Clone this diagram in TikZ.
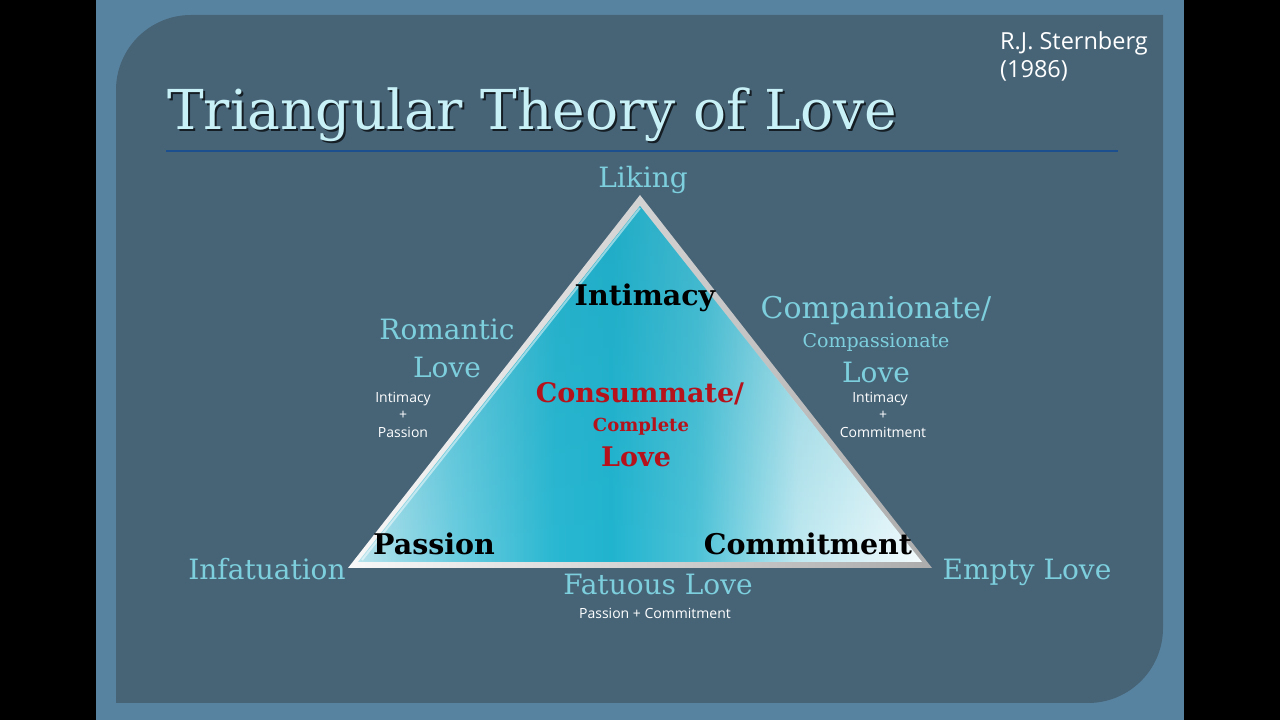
\documentclass[tikz,border=0pt]{standalone}
\usepackage{fontspec}
\setmainfont{DejaVu Serif}
\newfontfamily\notefont{Open Sans}
\usetikzlibrary{fadings}

\definecolor{slideblue}{HTML}{5883A0}
\definecolor{panelblue}{HTML}{476477}
\definecolor{titlecyan}{HTML}{C8F1F7}
\definecolor{lovecyan}{HTML}{7DCFDD}
\definecolor{rulecol}{HTML}{1C4F8E}
\definecolor{lovered}{HTML}{B5121B}
\definecolor{triTop}{HTML}{1F9DB6}
\definecolor{tri0}{HTML}{B8E3EC}
\definecolor{tri1}{HTML}{6CCDE0}
\definecolor{tri2}{HTML}{2AB8D2}
\definecolor{tri3}{HTML}{22B5D0}
\definecolor{tri4}{HTML}{4EC3D8}
\definecolor{tri5}{HTML}{C0E9F1}
\definecolor{tri6}{HTML}{F4FCFE}

\pgfdeclarehorizontalshading{trifill}{100bp}{%
  color(0bp)=(tri0); color(25bp)=(tri0); color(33.5bp)=(tri1);
  color(42.5bp)=(tri2); color(47.5bp)=(tri3); color(55bp)=(tri4);
  color(64bp)=(tri5); color(75bp)=(tri6); color(100bp)=(tri6)}

\begin{document}
\begin{tikzpicture}[x=1pt, y=1pt,
  lbl/.style={text=lovecyan, font=\fontsize{28}{30}\selectfont, inner sep=0pt, anchor=base},
  sublbl/.style={lbl, font=\fontsize{19}{22}\selectfont},
  note/.style={text=white, font=\notefont\fontsize{14}{16}\selectfont, inner sep=0pt, anchor=base},
  corner/.style={text=black, font=\bfseries\fontsize{28.5}{30}\selectfont, inner sep=0pt, anchor=base},
  core/.style={text=lovered, font=\bfseries\fontsize{27}{30}\selectfont, inner sep=0pt, anchor=base},
  coresm/.style={core, font=\bfseries\fontsize{18}{20}\selectfont}
]
% slide background
\fill[black] (0,0) rectangle (1280,720);
\fill[slideblue] (96,0) rectangle (1184,720);
\fill[panelblue] (116,17) -- (116,630) arc(180:90:75) -- (1163,705)
  -- (1163,92) arc(0:-90:75) -- cycle;

% title
\node[text=black!70!panelblue, font=\fontsize{55}{60}\selectfont, inner sep=0pt, anchor=base west]
  (titleshd) at (169,588) {Triangular Theory of Love};
\node[text=titlecyan, font=\fontsize{55}{60}\selectfont, inner sep=0pt, anchor=base west]
  (title) at (167,590) {Triangular Theory of Love};
\draw[rulecol, line width=1.5pt] (166,569) -- (1118,569);

\node[note, anchor=base west, font=\notefont\fontsize{23.5}{26}\selectfont] (ref1) at (1000,670) {R.J. Sternberg};
\node[note, anchor=base west, font=\notefont\fontsize{23.5}{26}\selectfont] (ref2) at (1000,642) {(1986)};

% triangle
\shade[left color=white!95!gray, right color=gray!65] (640,525) -- (348,152) -- (932,152) -- cycle;
\shade[shading=trifill] (640,514) -- (358,158) -- (922,158) -- cycle;
\fill[triTop, path fading=south, opacity=0.35] (640,514) -- (358,158) -- (922,158) -- cycle;
\draw[white, opacity=0.5, line width=2pt] (640,512) -- (362,160);

% inside the triangle
\node[corner] (intim) at (645,414) {Intimacy};
\node[corner] (pass)  at (434,165) {Passion};
\node[corner] (commit) at (808,165) {Commitment};

\node[core]   (cons1) at (640,317) {Consummate/};
\node[coresm] (cons2) at (641,288) {Complete};
\node[core]   (cons3) at (636,253) {Love};

% corners
\node[lbl] (lik) at (643,532) {Liking};
\node[lbl] (inf) at (267,140) {Infatuation};
\node[lbl] (empty) at (1027,140) {Empty Love};

% sides
\node[lbl] (rom1) at (447,380) {Romantic};
\node[lbl] (rom2) at (447,342) {Love};
\node[note] (rn1) at (403,317) {Intimacy};
\node[note] (rn2) at (403,300) {+};
\node[note] (rn3) at (403,282) {Passion};

\node[lbl, font=\fontsize{30}{32}\selectfont] (comp1) at (876,401) {Companionate/};
\node[sublbl] (comp2) at (876,372) {Compassionate};
\node[lbl]    (comp3) at (876,337) {Love};
\node[note] (cn1) at (880,317) {Intimacy};
\node[note] (cn2) at (883,300) {+};
\node[note] (cn3) at (883,282) {Commitment};

\node[lbl]  (fat) at (658,125) {Fatuous Love};
\node[note] (fn)  at (655,101) {Passion + Commitment};
\end{tikzpicture}
\end{document}
